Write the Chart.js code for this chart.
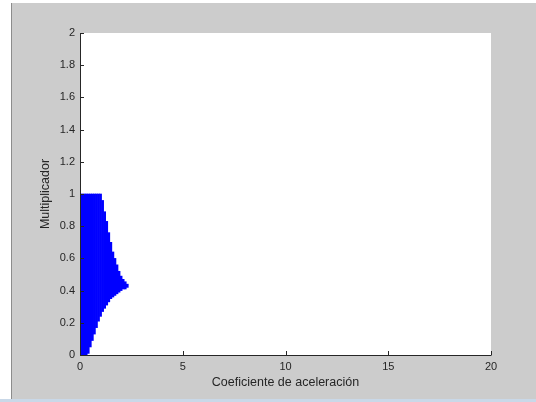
<!DOCTYPE html>
<html>
<head>
<meta charset="utf-8">
<script src="https://cdn.jsdelivr.net/npm/chart.js@4"></script>
<style>
  html, body { margin: 0; padding: 0; background: #fff; }
  #wrap { position: relative; width: 536px; height: 402px; overflow: hidden; }
  #fig { position: absolute; left: 11px; top: 3px; width: 525px; height: 396px; background: #ccc; border-left: 1px solid #8c8c8c; box-sizing: border-box; }
  #status { position: absolute; left: 0; top: 399px; width: 536px; height: 3px; background: #c9d8e8; }
  canvas { position: absolute; left: 0; top: 0; }
</style>
</head>
<body>
<div id="wrap">
  <div id="fig"></div>
  <div id="status"></div>
  <canvas id="c" width="536" height="402"></canvas>
</div>
<script>
// acceleration coefficient samples and the multiplier range at each one
var coef = [0, 0.1, 0.2, 0.3, 0.4, 0.5, 0.6, 0.7, 0.8, 0.9, 1.0, 1.1, 1.2,
            1.3, 1.4, 1.5, 1.6, 1.7, 1.8, 1.9, 2.0, 2.1, 2.2, 2.3];
var multLow = [0, 0, 0, 0, 0.01, 0.05, 0.09, 0.13, 0.17, 0.21, 0.24, 0.27, 0.29,
               0.31, 0.33, 0.35, 0.36, 0.37, 0.38, 0.39, 0.40, 0.41, 0.41, 0.42];
var multHigh = [1, 1, 1, 1, 1, 1, 1, 1, 1, 1, 1, 0.96, 0.89,
                0.83, 0.76, 0.70, 0.64, 0.60, 0.56, 0.52, 0.49, 0.47, 0.455, 0.44];

var xTicks = [0, 5, 10, 15, 20];
var yTicks = [0, 0.2, 0.4, 0.6, 0.8, 1, 1.2, 1.4, 1.6, 1.8, 2];

var points = coef.map(function (c, i) {
    return { x: c, y: [multLow[i], multHigh[i]] };
});

var fontFamily = '"Liberation Sans", Arial, sans-serif';
var axisColor = '#262626';

// white axes box plus inward MATLAB-style ticks on the left and bottom edges
var axesBox = {
    id: 'axesBox',
    beforeDatasetsDraw: function (chart) {
        var a = chart.chartArea;
        var ctx = chart.ctx;
        ctx.save();
        ctx.fillStyle = '#fff';
        ctx.fillRect(a.left, a.top, a.right - a.left, a.bottom - a.top);
        ctx.restore();
    },
    afterDatasetsDraw: function (chart) {
        var a = chart.chartArea;
        var ctx = chart.ctx;
        var xs = chart.scales.x;
        var ys = chart.scales.y;
        ctx.save();
        ctx.strokeStyle = axisColor;
        ctx.lineWidth = 1;
        ctx.beginPath();
        ctx.moveTo(a.left + 0.5, a.top);
        ctx.lineTo(a.left + 0.5, a.bottom + 0.5);
        ctx.lineTo(a.right + 0.5, a.bottom + 0.5);
        yTicks.forEach(function (v) {
            var y = Math.round(ys.getPixelForValue(v)) + 0.5;
            ctx.moveTo(a.left, y);
            ctx.lineTo(a.left + 4, y);
        });
        xTicks.forEach(function (v) {
            var x = Math.round(xs.getPixelForValue(v)) + 0.5;
            ctx.moveTo(x, a.bottom);
            ctx.lineTo(x, a.bottom - 4);
        });
        ctx.stroke();
        ctx.restore();
    }
};

new Chart(document.getElementById('c'), {
    type: 'bar',
    data: {
        datasets: [{
            data: points,
            backgroundColor: '#0000ff',
            borderWidth: 0,
            barPercentage: 1,
            categoryPercentage: 1,
            grouped: false
        }]
    },
    options: {
        responsive: false,
        animation: false,
        layout: { padding: { left: 0, top: 33, right: 45, bottom: 0 } },
        plugins: {
            legend: { display: false },
            tooltip: { enabled: false }
        },
        scales: {
            x: {
                type: 'linear',
                min: 0,
                max: 20,
                offset: false,
                afterBuildTicks: function (scale) {
                    scale.ticks = xTicks.map(function (v) { return { value: v }; });
                },
                afterFit: function (scale) { scale.height = 47; },
                grid: { display: false, drawTicks: false },
                border: { display: false },
                ticks: {
                    padding: 5,
                    color: axisColor,
                    font: { family: fontFamily, size: 11 },
                    maxRotation: 0
                },
                title: {
                    display: true,
                    text: 'Coeficiente de aceleración',
                    color: axisColor,
                    font: { family: fontFamily, size: 12.5 },
                    padding: { top: 0, bottom: 11.5 }
                }
            },
            y: {
                type: 'linear',
                min: 0,
                max: 2,
                afterBuildTicks: function (scale) {
                    scale.ticks = yTicks.map(function (v) { return { value: v }; });
                },
                afterFit: function (scale) { scale.width = 80; },
                grid: { display: false, drawTicks: false },
                border: { display: false },
                ticks: {
                    padding: 5,
                    color: axisColor,
                    font: { family: fontFamily, size: 11 },
                    callback: function (v) { return String(+v.toFixed(1)); }
                },
                title: {
                    display: true,
                    text: 'Multiplicador',
                    color: axisColor,
                    font: { family: fontFamily, size: 12.5 },
                    padding: { top: 38.5, bottom: 0 }
                }
            }
        }
    },
    plugins: [axesBox]
});
</script>
</body>
</html>
